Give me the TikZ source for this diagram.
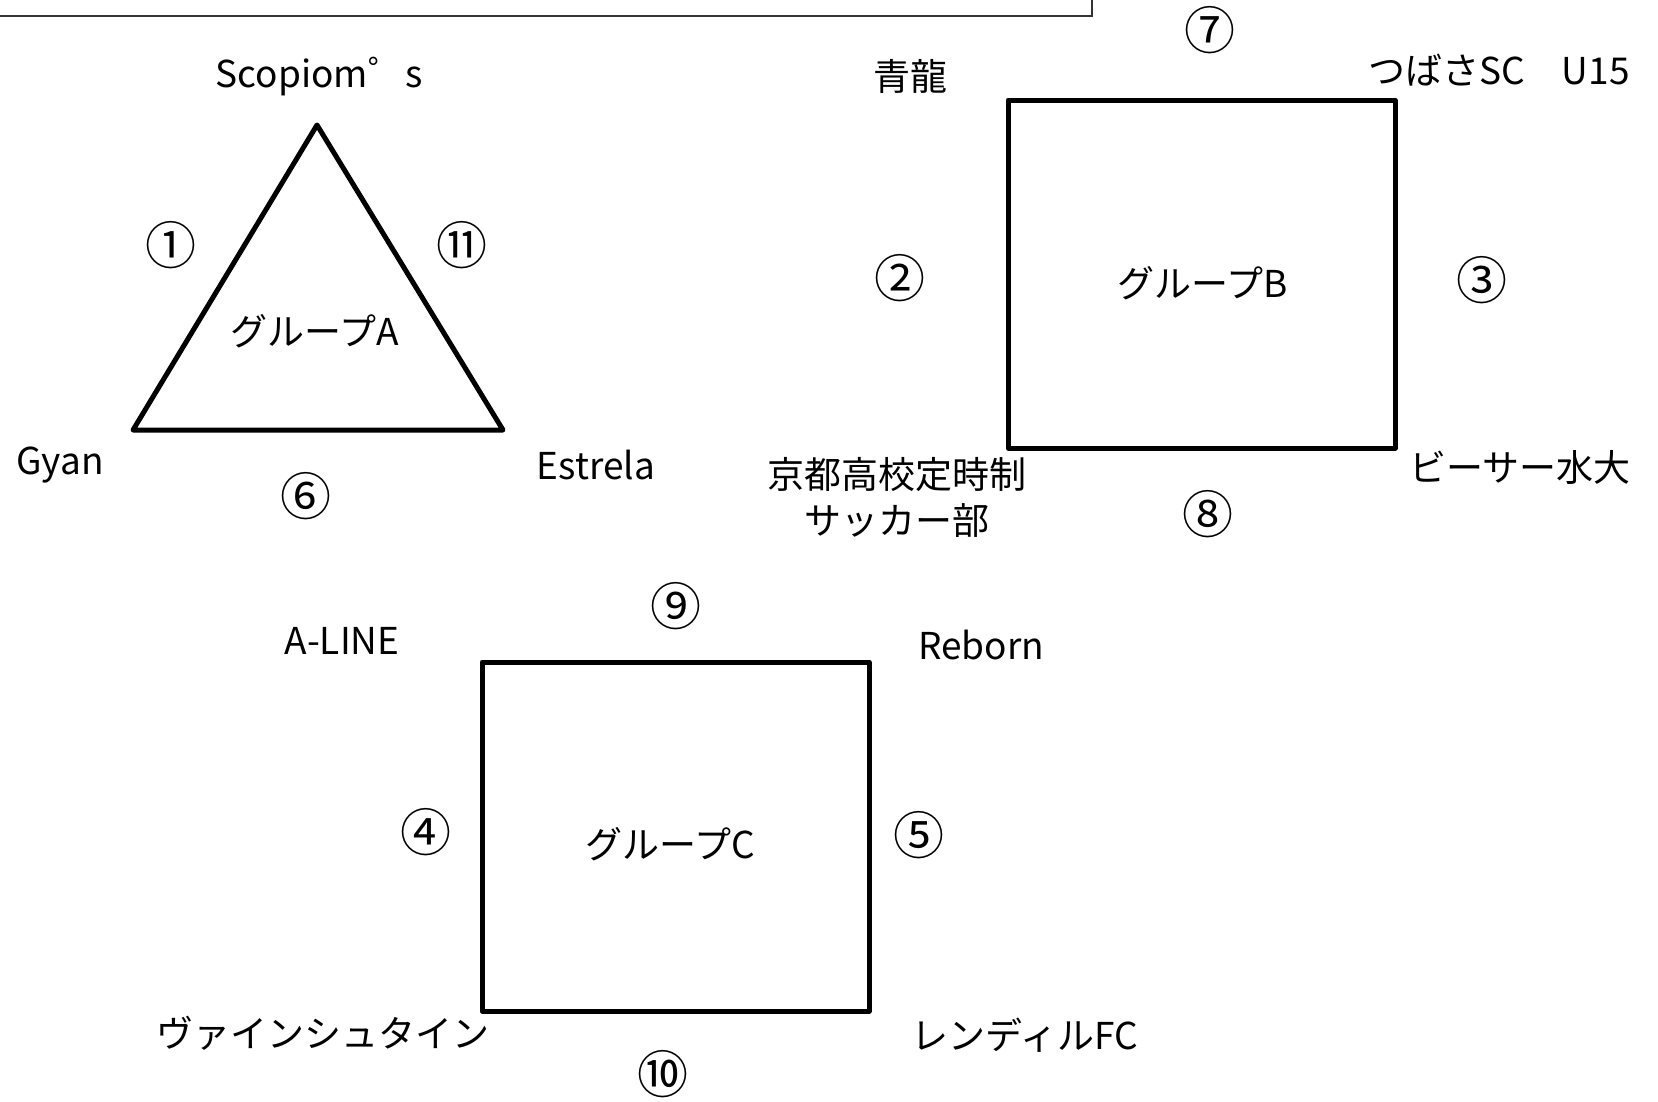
\documentclass[tikz,border=0pt]{standalone}
\usepackage{fontspec}
\setmainfont{Noto Sans CJK JP}
\begin{document}
\begin{tikzpicture}[x=1pt,y=-1pt,
  shapeline/.style={line width=5pt,line join=round,line cap=round},
  lbl/.style={inner sep=0pt,font=\fontsize{37}{42}\selectfont},
  num/.style={inner sep=0pt,font=\fontsize{51}{55}\selectfont},
  topbox/.style={line width=1.6pt,draw=black!80}]
\useasboundingbox[fill=white] (0,0) rectangle (1658,1101);
% header frame (text cut off by the page edge)
\draw[topbox] (-5,-5) -- (-5,16) -- (1092,16) -- (1092,-5);
% group A
\coordinate (a1) at (317,125);
\coordinate (a2) at (133,430);
\coordinate (a3) at (503,430);
\draw[shapeline] (a1) -- (a2) -- (a3) -- cycle;
\node[lbl] (ga) at (315,331) {グループA};
\node[lbl] (scop) at (319,77) {Scopiom゜s};
\node[lbl] (gyan) at (60,465) {Gyan};
\node[lbl] (estr) at (596,465) {Estrela};
\node[num] (n1) at (171,245) {①};
\node[num] (n11) at (462,245) {⑪};
\node[num] (n6) at (306,496) {⑥};
% group B
\coordinate (b1) at (1008,100);
\coordinate (b2) at (1395,448);
\draw[shapeline] (b1) rectangle (b2);
\node[lbl] (gb) at (1203,283) {グループB};
\node[lbl] (seir) at (910,76) {青龍};
\node[lbl] (tsub) at (1499,70) {つばさSC　U15};
\node[lbl,align=center] (kyot) at (897,497) {京都高校定時制\\[4pt]サッカー部};
\node[lbl] (bisa) at (1520,467) {ビーサー水大};
\node[num] (n7) at (1210,30) {⑦};
\node[num] (n2) at (900,278) {②};
\node[num] (n3) at (1482,280) {③};
\node[num] (n8) at (1208,514) {⑧};
% group C
\coordinate (c1) at (482,662);
\coordinate (c2) at (869,1011);
\draw[shapeline] (c1) rectangle (c2);
\node[lbl] (gc) at (670,844) {グループC};
\node[lbl] (alin) at (342,641) {A-LINE};
\node[lbl] (rebo) at (981,645) {Reborn};
\node[lbl] (vain) at (323,1033) {ヴァインシュタイン};
\node[lbl] (rend) at (1025,1035) {レンディルFC};
\node[num] (n9) at (676,606) {⑨};
\node[num] (n4) at (426,832) {④};
\node[num] (n5) at (919,835) {⑤};
\node[num] (n10) at (663,1074) {⑩};
\end{tikzpicture}
\end{document}
